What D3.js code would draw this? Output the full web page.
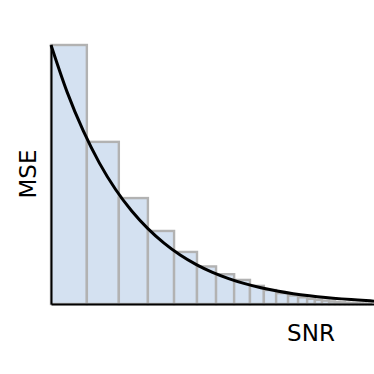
<!DOCTYPE html>
<html>
<head>
<meta charset="utf-8">
<script src="https://cdn.jsdelivr.net/npm/d3@7/dist/d3.min.js"></script>
<style>
  html, body { margin: 0; padding: 0; background: #fff; }
  svg { display: block; }
</style>
</head>
<body>
<svg id="chart" width="374" height="374"></svg>
<script>
// Bar edges along SNR axis (data units) and bar heights (MSE, relative)
const barEdges = [0, 1.11, 2.10, 3.00, 3.81, 4.52, 5.11, 5.67, 6.16, 6.59, 6.97, 7.34, 7.65, 7.93,
                  8.17, 8.39, 8.61, 8.79, 8.95, 9.10, 9.23, 9.35, 9.47, 9.57, 9.66, 9.75, 9.85, 9.91];
const barHeights = [1, 0.626, 0.409, 0.282, 0.201, 0.145, 0.115, 0.093, 0.070, 0.054, 0.042, 0.033,
                    0.026, 0.020, 0.016, 0.013, 0.010, 0.008, 0.0065, 0.005, 0.004, 0.003, 0.0025,
                    0.002, 0.0015, 0.001, 0.001];
// Smooth MSE curve samples
const curveX = [0, 0.5, 1, 1.5, 2, 2.5, 3, 3.5, 4, 4.5, 5, 5.5, 6, 6.5, 7, 7.5, 8, 8.5, 9, 9.5, 10];
const curveY = [1, 0.818, 0.668, 0.544, 0.442, 0.359, 0.291, 0.235, 0.189, 0.152, 0.122, 0.0982,
                0.0786, 0.0627, 0.0500, 0.0397, 0.0316, 0.0250, 0.0198, 0.0156, 0.0110];
const xLabel = "SNR";
const yLabel = "MSE";

const svg = d3.select("#chart");
const mLeft = 51, mRight = 374, mTop = 45, mBottom = 304;

const x = d3.scaleLinear().domain([0, 10]).range([mLeft, mRight]);
const y = d3.scaleLinear().domain([0, 1]).range([mBottom, mTop]);

const bars = barHeights.map((h, i) => ({ x0: barEdges[i], x1: barEdges[i + 1], h }));

svg.append("g").selectAll("rect").data(bars).join("rect")
  .attr("x", d => x(d.x0))
  .attr("y", d => y(d.h))
  .attr("width", d => x(d.x1) - x(d.x0))
  .attr("height", d => y(0) - y(d.h))
  .attr("fill", "#d4e1f1")
  .attr("stroke", "#b2b2b2")
  .attr("stroke-width", 2.4);

const pts = curveX.map((v, i) => [v, curveY[i]]);
svg.append("path")
  .datum(pts)
  .attr("d", d3.line().x(d => x(d[0])).y(d => y(d[1])).curve(d3.curveMonotoneX))
  .attr("fill", "none")
  .attr("stroke", "#000")
  .attr("stroke-width", 3);

const xAxis = svg.append("g").attr("transform", `translate(0,${mBottom})`)
  .call(d3.axisBottom(x).tickValues([]).tickSizeOuter(0));
const yAxis = svg.append("g").attr("transform", `translate(${mLeft},0)`)
  .call(d3.axisLeft(y).tickValues([]).tickSizeOuter(0));
[xAxis, yAxis].forEach(g => g.select(".domain").attr("stroke", "#000").attr("stroke-width", 2));

svg.append("text")
  .attr("x", 311).attr("y", 341)
  .attr("text-anchor", "middle")
  .attr("font-family", "DejaVu Sans")
  .attr("font-size", 23)
  .attr("fill", "#000")
  .text(xLabel);

svg.append("text")
  .attr("transform", "translate(36,174) rotate(-90)")
  .attr("text-anchor", "middle")
  .attr("font-family", "DejaVu Sans")
  .attr("font-size", 23)
  .attr("fill", "#000")
  .text(yLabel);
</script>
</body>
</html>
